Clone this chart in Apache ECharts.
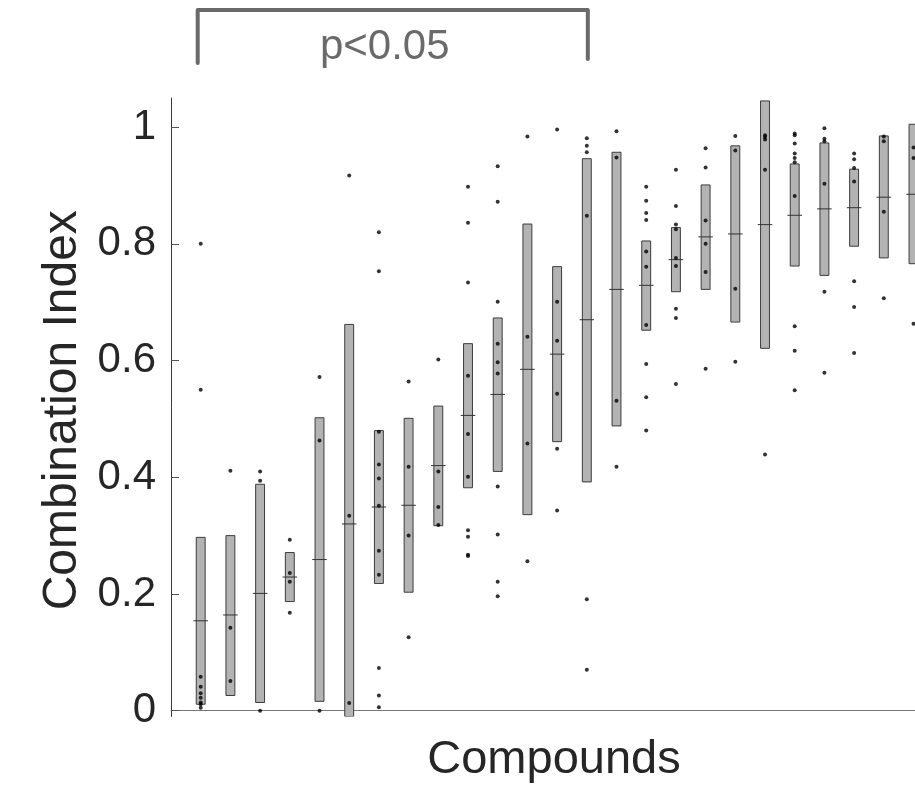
<!DOCTYPE html>
<html>
<head>
<meta charset="utf-8">
<script src="https://cdn.jsdelivr.net/npm/echarts@6.0.0/dist/echarts.min.js"></script>
<style>
  html, body { margin: 0; padding: 0; background: #ffffff; }
  #chart { width: 915px; height: 795px; }
</style>
</head>
<body>
<div id="chart"></div>
<script>
// ---- Data ----
const compoundIndex = [1,2,3,4,5,6,7,8,9,10,11,12,13,14,15,16,17,18,19,20,21,22,23,24,25];
const boxLow  = [0.011,0.026,0.014,0.187,0.016,-0.010,0.218,0.203,0.317,0.382,0.410,0.336,0.461,0.392,0.488,0.652,0.718,0.722,0.666,0.621,0.762,0.746,0.796,0.776,0.766];
const boxHigh = [0.297,0.300,0.388,0.271,0.502,0.662,0.480,0.501,0.522,0.629,0.673,0.834,0.761,0.946,0.957,0.805,0.828,0.901,0.968,1.045,0.937,0.973,0.928,0.985,1.005];
const meanCI  = [0.154,0.164,0.201,0.229,0.259,0.320,0.349,0.352,0.420,0.506,0.542,0.585,0.611,0.670,0.722,0.729,0.773,0.812,0.817,0.833,0.849,0.860,0.862,0.880,0.885];
const pointValues = [
  [0.800,0.550,0.058,0.041,0.030,0.022,0.014,0.011,0.005],
  [0.411,0.142,0.051],
  [0.410,0.394,0.000],
  [0.293,0.236,0.221,0.168],
  [0.572,0.463,0.000],
  [0.917,0.334,0.013],
  [0.820,0.753,0.478,0.422,0.398,0.351,0.274,0.233,0.073,0.026,0.006],
  [0.564,0.418,0.300,0.126],
  [0.602,0.410,0.349,0.318],
  [0.898,0.836,0.734,0.574,0.474,0.401,0.309,0.298,0.267,0.265],
  [0.933,0.872,0.701,0.629,0.597,0.578,0.384,0.302,0.221,0.196],
  [0.984,0.641,0.458,0.256],
  [0.996,0.701,0.634,0.543,0.449,0.343],
  [0.981,0.968,0.957,0.848,0.191,0.070],
  [0.993,0.948,0.531,0.418],
  [0.898,0.874,0.853,0.841,0.787,0.761,0.661,0.594,0.537,0.480],
  [0.927,0.865,0.833,0.825,0.776,0.762,0.689,0.673,0.560],
  [0.964,0.931,0.840,0.800,0.752,0.586],
  [0.985,0.960,0.723,0.598],
  [0.986,0.983,0.979,0.927,0.439],
  [0.989,0.986,0.972,0.955,0.947,0.940,0.882,0.659,0.617,0.549],
  [0.998,0.980,0.976,0.903,0.718,0.579],
  [0.955,0.945,0.930,0.907,0.736,0.692,0.613],
  [0.984,0.976,0.855,0.707],
  [0.965,0.947,0.663]
];
const yTickValues = [0, 0.2, 0.4, 0.6, 0.8, 1];
const sigFrom = 1, sigTo = 14;
const sigLabel = 'p<0.05';

// ---- Build series data ----
const boxData = compoundIndex.map((c, i) => [c, boxLow[i], boxHigh[i], meanCI[i]]);
const dotData = [];
pointValues.forEach((arr, i) => arr.forEach(v => dotData.push([compoundIndex[i], v])));

const FONT = '"Liberation Sans", Arial, Helvetica, sans-serif';

function renderBox(params, api) {
  const x = api.value(0), lo = api.value(1), hi = api.value(2), m = api.value(3);
  const unit = api.size([1, 0])[0];
  const w = unit * 0.30;
  const mw = unit * 0.49;
  const pTop = api.coord([x, hi]);
  const pBot = api.coord([x, lo]);
  const pm = api.coord([x, m]);
  return {
    type: 'group',
    children: [
      { type: 'rect',
        shape: { x: pTop[0] - w / 2, y: pTop[1], width: w, height: pBot[1] - pTop[1] },
        style: { fill: '#b3b3b3', stroke: '#3c3c3c', lineWidth: 1 } },
      { type: 'line',
        shape: { x1: pm[0] - mw / 2, y1: pm[1], x2: pm[0] + mw / 2, y2: pm[1] },
        style: { stroke: '#333333', lineWidth: 1 } }
    ]
  };
}

const chart = echarts.init(document.getElementById('chart'), null, { renderer: 'canvas' });
chart.setOption({
  animation: false,
  backgroundColor: '#ffffff',
  grid: { left: 171, right: 0, top: 98, bottom: 78.5, containLabel: false },
  xAxis: {
    type: 'value', min: 0, max: 25.05,
    name: 'Compounds', nameLocation: 'middle', nameGap: 20,
    nameTextStyle: { fontFamily: FONT, fontSize: 47, color: '#262626', padding: [0, 0, 0, 22] },
    axisLine: { show: true, lineStyle: { color: '#777777', width: 1 } },
    axisTick: { show: false }, axisLabel: { show: false }, splitLine: { show: false }
  },
  yAxis: {
    type: 'value', min: -0.01, max: 1.05,
    name: 'Combination Index', nameLocation: 'middle', nameGap: 84, nameRotate: 90,
    nameTextStyle: { fontFamily: FONT, fontSize: 48, color: '#262626', padding: [0, 6, 0, 0] },
    axisLine: { show: true, lineStyle: { color: '#3a3a3a', width: 1 } },
    axisTick: { show: true, inside: true, length: 8, customValues: yTickValues, lineStyle: { color: '#555555', width: 1 } },
    axisLabel: { show: true, customValues: yTickValues, margin: 15, fontFamily: FONT, fontSize: 42, color: '#262626',
                 formatter: v => String(Math.round(v * 10) / 10) },
    splitLine: { show: false }
  },
  series: [
    { type: 'custom', renderItem: renderBox, data: boxData, clip: true, z: 2 },
    { type: 'scatter', data: dotData, symbol: 'circle', symbolSize: 4,
      itemStyle: { color: '#000000' }, z: 3, silent: true }
  ]
});

// Significance bracket spanning compounds sigFrom..sigTo
const xL = chart.convertToPixel({ xAxisIndex: 0 }, sigFrom) - 3;
const xR = chart.convertToPixel({ xAxisIndex: 0 }, sigTo) + 1;
chart.setOption({
  graphic: [
    { type: 'polyline', z: 10,
      shape: { points: [[xL, 63], [xL, 10], [xR, 10], [xR, 59]] },
      style: { stroke: '#6a6a6a', lineWidth: 4, fill: null, lineJoin: 'round', lineCap: 'round' } },
    { type: 'text', z: 10, x: (xL + xR) / 2 - 8, y: 47,
      style: { text: sigLabel, fontFamily: FONT, fontSize: 42, fill: '#6a6a6a', align: 'center', verticalAlign: 'middle' } }
  ]
});
</script>
</body>
</html>
